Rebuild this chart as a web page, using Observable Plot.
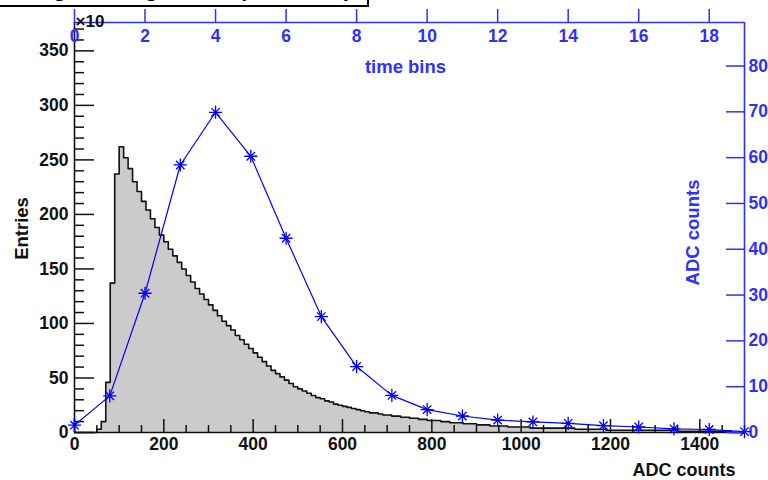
<!DOCTYPE html>
<html>
<head>
<meta charset="utf-8">
<script src="https://cdn.jsdelivr.net/npm/d3@7"></script>
<script src="https://cdn.jsdelivr.net/npm/@observablehq/plot@0.6"></script>
<style>
  html, body { margin: 0; padding: 0; background: white; }
  #wrap { position: relative; width: 768px; height: 480px; overflow: hidden; background: white; }
  #titlebox { position: absolute; left: -2px; top: -26px; width: 371px; height: 33px; border: 2px solid black;
    background: white; font-family: "Liberation Sans", Arial, sans-serif; font-weight: bold; font-size: 22px;
    line-height: 26px; padding-left: 14px; box-sizing: border-box; white-space: nowrap; z-index: 2; }
  #chart { position: absolute; left: 0; top: 0; }
</style>
</head>
<body>
<div id="wrap">
  <div id="titlebox">Integrated signal and pulse shape</div>
  <div id="chart"></div>
</div>
<script>
// ---- Histogram (ADC counts, bin width 10, 0..1500) ----
const binWidth = 10;
const histEntries = [
  0, 0, 0, 0, 0,
  3, 10, 46, 137, 237, 262, 252, 242, 230, 221,
  212, 204, 196, 188, 181, 175, 168, 162, 156, 150,
  144, 138, 132, 127, 122, 117, 112, 107, 102, 98,
  94, 89, 85, 81, 77, 73, 69, 65, 61, 57,
  54, 51, 48, 45, 42, 40, 38, 36, 34, 32,
  31, 29, 28, 26, 25, 24, 23, 22, 21, 20,
  19, 18, 18, 17, 16, 16, 15, 15, 14, 14,
  13, 13, 12, 12, 11, 11, 11, 10, 10, 9,
  9, 9, 8, 8, 8, 7, 7, 7, 6, 6,
  6, 6, 5, 5, 5, 5, 5, 4, 4, 4,
  4, 4, 4, 4, 4, 4, 4, 3, 3, 3,
  3, 3, 3, 3, 2,
  2, 2, 2, 2, 2, 2, 2, 2, 2, 2, 2, 2, 2, 2, 2,
  1, 1, 1, 1, 1, 1, 1, 1, 1, 1, 1, 1,
  0, 0, 0
];

// ---- Pulse shape (time bins vs ADC counts) ----
const timeBins = [0, 1, 2, 3, 4, 5, 6, 7, 8, 9, 10, 11, 12, 13, 14, 15, 16, 17, 18, 19];
const pulseADC = [1.6, 8.0, 30.4, 58.4, 69.9, 60.3, 42.4, 25.3, 14.4, 8.1, 5.0, 3.6, 2.7, 2.3, 2.0, 1.5, 1.2, 0.8, 0.65, 0.2];

// ---- Axis ranges and ticks ----
const adcMax = 1500;
const entriesMax = 376;
const timeMax = 19;
const rightMax = 89.5;
const adcMajor = [0, 200, 400, 600, 800, 1000, 1200, 1400];
const adcMinor = [50, 100, 150, 250, 300, 350, 450, 500, 550, 650, 700, 750, 850, 900, 950, 1050, 1100, 1150, 1250, 1300, 1350, 1450];
const entriesMajor = [0, 50, 100, 150, 200, 250, 300, 350];
const entriesMinor = [10, 20, 30, 40, 60, 70, 80, 90, 110, 120, 130, 140, 160, 170, 180, 190, 210, 220, 230, 240, 260, 270, 280, 290, 310, 320, 330, 340, 360, 370];
const timeTicks = [0, 2, 4, 6, 8, 10, 12, 14, 16, 18];
const rightTicks = [0, 10, 20, 30, 40, 50, 60, 70, 80];

const blue = "#0000ff";
const axisBlue = "#2f2fff";

// map secondary axes onto the primary scales
const tx = t => t * adcMax / timeMax;
const ry = v => v * entriesMax / rightMax;

const hist = histEntries.map((v, i) => ({x: i * binWidth, v}));
hist.push({x: adcMax, v: 0});
const pulse = timeBins.map((t, i) => ({t, v: pulseADC[i]}));

const fs = 17.5;

const chart = Plot.plot({
  width: 768,
  height: 480,
  marginLeft: 74,
  marginRight: 24,
  marginTop: 22,
  marginBottom: 48,
  style: {fontFamily: "'Liberation Sans', Arial, sans-serif", fontWeight: "bold", background: "white", overflow: "visible"},
  x: {domain: [0, adcMax], axis: null},
  y: {domain: [0, entriesMax], axis: null},
  marks: [
    Plot.areaY(hist, {x: "x", y: "v", curve: "step-after", fill: "#cbcbcb"}),
    Plot.line(hist, {x: "x", y: "v", curve: "step-after", stroke: "#111", strokeWidth: 1.6}),

    // left axis (black)
    Plot.axisY(entriesMinor, {anchor: "left", tickSize: -10, tickFormat: () => "", label: null, stroke: "#111", strokeWidth: 1.5}),
    Plot.axisY(entriesMajor, {anchor: "left", tickSize: -20, tickFormat: () => "", label: null, stroke: "#111", strokeWidth: 1.5}),
    Plot.axisY(entriesMajor, {anchor: "left", tickSize: 0, tickPadding: 6, fontSize: fs, tickFormat: d => String(d), label: null, fill: "#111"}),
    // bottom axis (black)
    Plot.axisX(adcMinor, {anchor: "bottom", tickSize: -7, tickFormat: () => "", label: null, stroke: "#111", strokeWidth: 1.5}),
    Plot.axisX(adcMajor, {anchor: "bottom", tickSize: -13, tickFormat: () => "", label: null, stroke: "#111", strokeWidth: 1.5}),
    Plot.axisX(adcMajor, {anchor: "bottom", tickSize: 0, tickPadding: 5, fontSize: fs, tickFormat: d => String(d), label: null, fill: "#111"}),
    Plot.ruleX([0], {stroke: "#111", strokeWidth: 1.6}),
    Plot.ruleY([0], {stroke: "#111", strokeWidth: 1.6}),

    // top axis (blue, time bins)
    Plot.axisX(timeTicks.map(tx), {anchor: "top", tickSize: 14, tickFormat: () => "", label: null, stroke: axisBlue, strokeWidth: 1.5}),
    Plot.text(timeTicks, {x: tx, frameAnchor: "top", dy: 7, lineAnchor: "top", text: d => String(d), fill: axisBlue, fontSize: fs}),
    Plot.ruleY([entriesMax], {stroke: axisBlue, strokeWidth: 1.6}),
    // right axis (blue, ADC counts)
    Plot.axisY(rightTicks.map(ry), {anchor: "right", tickSize: -19, tickFormat: () => "", label: null, stroke: axisBlue, strokeWidth: 1.5}),
    Plot.text(rightTicks, {y: ry, frameAnchor: "right", dx: 4, textAnchor: "start", text: d => String(d), fill: axisBlue, fontSize: fs}),
    Plot.ruleX([adcMax], {stroke: axisBlue, strokeWidth: 1.6}),

    // pulse graph
    Plot.line(pulse, {x: d => tx(d.t), y: d => ry(d.v), stroke: blue, strokeWidth: 1.2}),
    Plot.dot(pulse, {x: d => tx(d.t), y: d => ry(d.v), symbol: "plus", r: 4.3, stroke: blue, strokeWidth: 1.3}),
    Plot.dot(pulse, {x: d => tx(d.t), y: d => ry(d.v), symbol: "times", r: 3.9, stroke: blue, strokeWidth: 1.3}),
    Plot.dot(pulse, {x: d => tx(d.t), y: d => ry(d.v), r: 1.8, fill: blue}),

    // titles
    Plot.text(["Entries"], {frameAnchor: "left", dx: -52, dy: 1, rotate: -90, textAnchor: "middle", fontSize: 18.5, fill: "#111"}),
    Plot.text(["ADC counts"], {frameAnchor: "bottom-right", dx: -9, dy: 38, lineAnchor: "middle", textAnchor: "end", fontSize: 18, fill: "#111"}),
    Plot.text(["time bins"], {frameAnchor: "top", dx: -4, dy: 37, fontSize: 18.5, fill: axisBlue}),
    Plot.text(["ADC counts"], {frameAnchor: "right", dx: -51, dy: 5, rotate: -90, textAnchor: "middle", fontSize: 18.5, fill: axisBlue}),
    Plot.text(["\u00d710"], {frameAnchor: "top-left", dx: 1, dy: -8, textAnchor: "start", fontSize: 17, fill: "#111"})
  ]
});
document.getElementById("chart").appendChild(chart);
</script>
</body>
</html>
